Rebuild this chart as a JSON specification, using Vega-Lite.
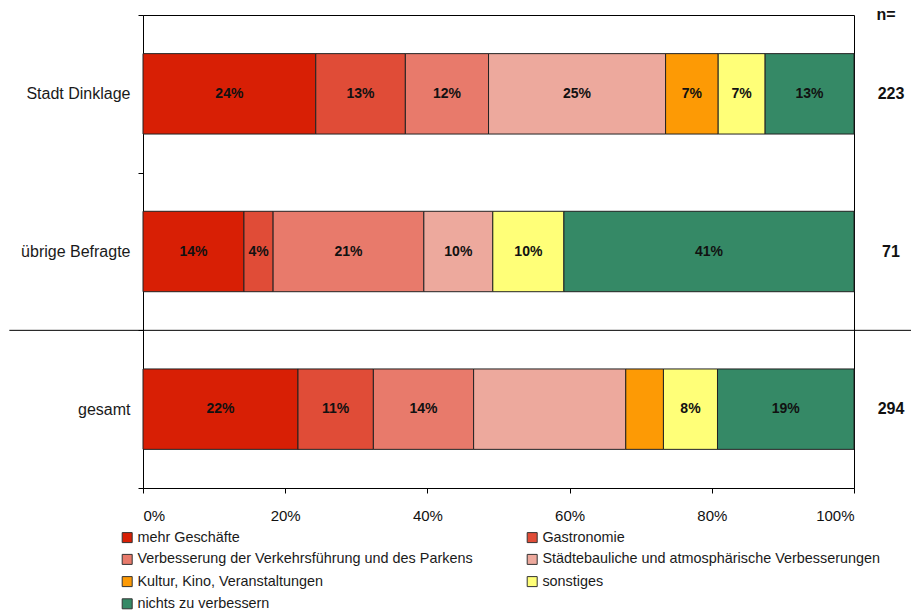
{
  "$schema": "https://vega.github.io/schema/vega-lite/v6.json",
  "width": 711,
  "height": 473,
  "autosize": {"type": "none"},
  "padding": {"left": 143, "top": 15, "right": 57, "bottom": 124},
  "background": "white",
  "config": {
    "view": {"stroke": "#000", "strokeWidth": 1},
    "font": "Liberation Sans",
    "axis": {"domainColor": "#000", "tickColor": "#000", "labelColor": "#111", "grid": false, "title": null}
  },
  "datasets": {
    "bars": [
      {"group": "Stadt Dinklage", "item": "mehr Geschäfte", "order": 1, "share": 0.243, "label": "24%"},
      {"group": "Stadt Dinklage", "item": "Gastronomie", "order": 2, "share": 0.126, "label": "13%"},
      {"group": "Stadt Dinklage", "item": "Verbesserung der Verkehrsführung und des Parkens", "order": 3, "share": 0.117, "label": "12%"},
      {"group": "Stadt Dinklage", "item": "Städtebauliche und atmosphärische Verbesserungen", "order": 4, "share": 0.249, "label": "25%"},
      {"group": "Stadt Dinklage", "item": "Kultur, Kino, Veranstaltungen", "order": 5, "share": 0.074, "label": "7%"},
      {"group": "Stadt Dinklage", "item": "sonstiges", "order": 6, "share": 0.066, "label": "7%"},
      {"group": "Stadt Dinklage", "item": "nichts zu verbessern", "order": 7, "share": 0.125, "label": "13%"},
      {"group": "übrige Befragte", "item": "mehr Geschäfte", "order": 1, "share": 0.142, "label": "14%"},
      {"group": "übrige Befragte", "item": "Gastronomie", "order": 2, "share": 0.041, "label": "4%"},
      {"group": "übrige Befragte", "item": "Verbesserung der Verkehrsführung und des Parkens", "order": 3, "share": 0.212, "label": "21%"},
      {"group": "übrige Befragte", "item": "Städtebauliche und atmosphärische Verbesserungen", "order": 4, "share": 0.097, "label": "10%"},
      {"group": "übrige Befragte", "item": "sonstiges", "order": 6, "share": 0.100, "label": "10%"},
      {"group": "übrige Befragte", "item": "nichts zu verbessern", "order": 7, "share": 0.408, "label": "41%"},
      {"group": "gesamt", "item": "mehr Geschäfte", "order": 1, "share": 0.218, "label": "22%"},
      {"group": "gesamt", "item": "Gastronomie", "order": 2, "share": 0.106, "label": "11%"},
      {"group": "gesamt", "item": "Verbesserung der Verkehrsführung und des Parkens", "order": 3, "share": 0.141, "label": "14%"},
      {"group": "gesamt", "item": "Städtebauliche und atmosphärische Verbesserungen", "order": 4, "share": 0.214, "label": ""},
      {"group": "gesamt", "item": "Kultur, Kino, Veranstaltungen", "order": 5, "share": 0.053, "label": ""},
      {"group": "gesamt", "item": "sonstiges", "order": 6, "share": 0.076, "label": "8%"},
      {"group": "gesamt", "item": "nichts zu verbessern", "order": 7, "share": 0.192, "label": "19%"}
    ],
    "n": [
      {"group": "Stadt Dinklage", "n": "223"},
      {"group": "übrige Befragte", "n": "71"},
      {"group": "gesamt", "n": "294"}
    ],
    "header": [
      {"text": "n="}
    ]
  },
  "layer": [
    {
      "data": {"name": "bars"},
      "transform": [
        {"stack": "share", "groupby": ["group"], "sort": [{"field": "order", "order": "ascending"}], "as": ["x0", "x1"]}
      ],
      "mark": {"type": "bar", "height": {"band": 0.51}, "stroke": "#222", "strokeWidth": 1},
      "encoding": {
        "y": {
          "field": "group", "type": "nominal",
          "scale": {"domain": ["Stadt Dinklage", "übrige Befragte", "gesamt"], "paddingInner": 0, "paddingOuter": 0},
          "axis": {"tickBand": "extent", "tickSize": 5, "labelPadding": 8, "labelFontSize": 16, "labelColor": "#1a1a1a"}
        },
        "x": {
          "field": "x0", "type": "quantitative",
          "scale": {"domain": [0, 1], "nice": false},
          "axis": {"format": ".0%", "values": [0, 0.2, 0.4, 0.6, 0.8, 1], "tickSize": 5, "labelPadding": 15, "labelFontSize": 15}
        },
        "x2": {"field": "x1"},
        "color": {
          "field": "item", "type": "nominal",
          "scale": {
            "domain": ["mehr Geschäfte", "Gastronomie", "Verbesserung der Verkehrsführung und des Parkens", "Städtebauliche und atmosphärische Verbesserungen", "Kultur, Kino, Veranstaltungen", "sonstiges", "nichts zu verbessern"],
            "range": ["#d81f05", "#e04c37", "#e87a6b", "#eda99d", "#fd9a05", "#ffff78", "#358966"]
          },
          "legend": {
            "orient": "none", "legendX": -23, "legendY": 515, "direction": "horizontal", "columns": 2,
            "title": null, "symbolType": "square", "symbolSize": 100, "symbolStrokeColor": "#333", "symbolStrokeWidth": 1,
            "labelFontSize": 14.4, "labelColor": "#1a1a1a", "labelOffset": 3, "rowPadding": 6.2, "columnPadding": 52, "labelLimit": 500
          }
        }
      }
    },
    {
      "data": {"name": "bars"},
      "transform": [
        {"stack": "share", "groupby": ["group"], "sort": [{"field": "order", "order": "ascending"}], "as": ["x0", "x1"]},
        {"fold": ["x0", "x1"], "as": ["edge", "xpos"]},
        {"aggregate": [{"op": "mean", "field": "xpos", "as": "xmid"}], "groupby": ["group", "item", "label"]}
      ],
      "mark": {"type": "text", "fontWeight": "bold", "fontSize": 14, "color": "#111", "align": "center", "baseline": "middle"},
      "encoding": {
        "y": {"field": "group", "type": "nominal"},
        "x": {"field": "xmid", "type": "quantitative"},
        "text": {"field": "label"}
      }
    },
    {
      "data": {"name": "header"},
      "mark": {"type": "rule", "color": "#000", "strokeWidth": 1},
      "encoding": {
        "y": {"datum": "gesamt", "type": "nominal", "bandPosition": 0},
        "x": {"datum": -0.188, "type": "quantitative"},
        "x2": {"datum": 1.1}
      }
    },
    {
      "data": {"name": "n"},
      "mark": {"type": "text", "fontWeight": "bold", "fontSize": 16, "color": "#111", "align": "center", "baseline": "middle"},
      "encoding": {
        "y": {"field": "group", "type": "nominal"},
        "x": {"datum": 1.052, "type": "quantitative"},
        "text": {"field": "n"}
      }
    },
    {
      "data": {"name": "header"},
      "mark": {"type": "text", "fontWeight": "bold", "fontSize": 16, "color": "#111", "align": "center", "baseline": "middle"},
      "encoding": {
        "y": {"datum": "Stadt Dinklage", "type": "nominal", "bandPosition": 0},
        "x": {"datum": 1.045, "type": "quantitative"},
        "text": {"field": "text"}
      }
    }
  ]
}
